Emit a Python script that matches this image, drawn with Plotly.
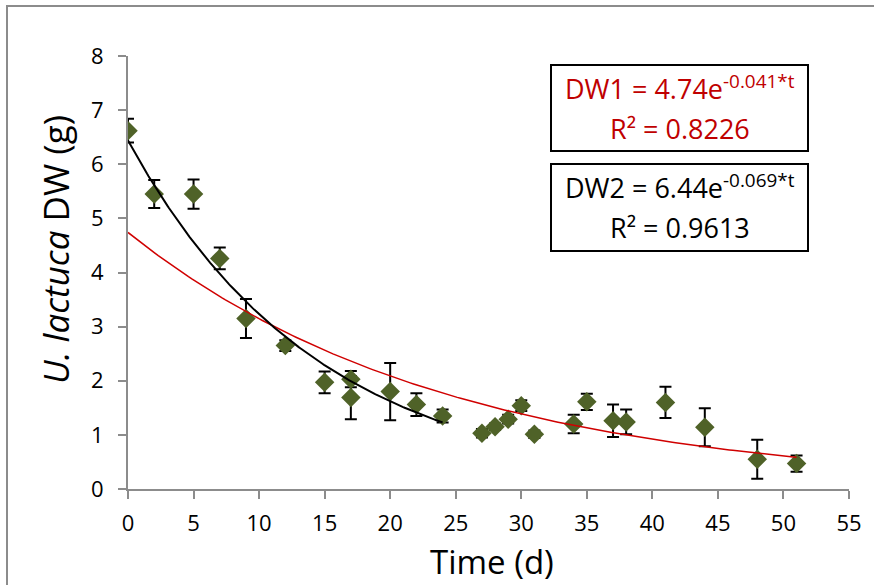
import numpy as np
import plotly.graph_objects as go

# ---- data ----
time_d = [0, 2, 5, 7, 9, 12, 15, 17, 17, 20, 22, 24, 27, 28, 29, 30, 31, 34, 35, 37, 38, 41, 44, 48, 51]
dw_g = [6.62, 5.45, 5.45, 4.26, 3.15, 2.65, 1.97, 2.03, 1.69, 1.80, 1.56, 1.35, 1.03, 1.15, 1.29,
        1.54, 1.01, 1.20, 1.61, 1.26, 1.24, 1.60, 1.14, 0.55, 0.47]
dw_err = [0.22, 0.26, 0.27, 0.20, 0.36, 0.10, 0.20, 0.15, 0.40, 0.53, 0.21, 0.12, 0.08, 0.06, 0.08,
          0.10, 0.07, 0.17, 0.15, 0.30, 0.23, 0.29, 0.35, 0.36, 0.15]

# fitted exponential trendlines (parameters shown on the chart)
fit1_a, fit1_b, fit1_tmax = 4.74, -0.041, 51
fit2_a, fit2_b, fit2_tmax = 6.44, -0.069, 24

x_ticks = list(range(0, 56, 5))
y_ticks = list(range(0, 9, 1))

t1 = np.linspace(0, fit1_tmax, 200)
t2 = np.linspace(0, fit2_tmax, 200)

FONT = "Open Sans"
W, H = 874, 585
L, R, T, B = 128, 849, 56, 489


def px(x):
    return (x - L) / (R - L)


def py(y):
    return (B - y) / (B - T)


fig = go.Figure()
fig.add_trace(go.Scatter(
    x=time_d, y=dw_g, mode="markers",
    marker=dict(symbol="diamond", size=15, color="#4F6228", line=dict(width=0)),
    error_y=dict(type="data", array=dw_err, visible=True, color="black", thickness=2, width=6),
    showlegend=False,
))
fig.add_trace(go.Scatter(
    x=t1, y=fit1_a * np.exp(fit1_b * t1), mode="lines",
    line=dict(color="#D00000", width=1.5), showlegend=False,
))
fig.add_trace(go.Scatter(
    x=t2, y=fit2_a * np.exp(fit2_b * t2), mode="lines",
    line=dict(color="black", width=2), showlegend=False,
))

axis_common = dict(
    showgrid=False, zeroline=False, showline=True, linecolor="#8C8C8C", linewidth=2,
    ticks="outside", ticklen=8, tickcolor="#8C8C8C", tickwidth=2,
    tickfont=dict(family=FONT, size=22, color="black"),
)
fig.update_xaxes(range=[0, 55], tickvals=x_ticks, ticklabelstandoff=6, **axis_common)
fig.update_yaxes(range=[0, 8], tickvals=y_ticks, ticklabelstandoff=10, **axis_common)

shapes = [
    # outer chart border
    dict(type="rect", xref="paper", yref="paper", x0=px(7), x1=px(900), y0=py(620), y1=py(6),
         line=dict(color="#8C8C8C", width=2), layer="below"),
    # equation boxes
    dict(type="rect", xref="paper", yref="paper", x0=px(551), x1=px(808), y0=py(151), y1=py(65),
         line=dict(color="black", width=2), fillcolor="white"),
    dict(type="rect", xref="paper", yref="paper", x0=px(551), x1=px(808), y0=py(251), y1=py(164),
         line=dict(color="black", width=2), fillcolor="white"),
]

red = "#C00000"
ann = [
    dict(text="DW1 = 4.74e<sup>-0.041*t</sup>", x=px(679.5), y=py(88), font=dict(color=red)),
    dict(text="R² = 0.8226", x=px(679.5), y=py(128), font=dict(color=red)),
    dict(text="DW2 = 6.44e<sup>-0.069*t</sup>", x=px(679.5), y=py(186), font=dict(color="black")),
    dict(text="R² = 0.9613", x=px(679.5), y=py(227), font=dict(color="black")),
]
annotations = []
for a in ann:
    a["font"].update(family=FONT, size=27)
    annotations.append(dict(xref="paper", yref="paper", xanchor="center", yanchor="middle",
                            showarrow=False, **a))
annotations.append(dict(text="Time (d)", x=px(492), y=py(561), xref="paper", yref="paper",
                        xanchor="center", yanchor="middle", showarrow=False,
                        font=dict(family=FONT, size=33, color="black")))
annotations.append(dict(text="<i>U. lactuca</i> DW (g)", x=px(55), y=py(250), xref="paper", yref="paper",
                        xanchor="center", yanchor="middle", showarrow=False, textangle=-90,
                        font=dict(family=FONT, size=35, color="black")))

fig.update_layout(
    width=W, height=H,
    margin=dict(l=L, r=W - R, t=T, b=H - B),
    paper_bgcolor="white", plot_bgcolor="white",
    shapes=shapes, annotations=annotations,
)
fig.write_html("out.html")
